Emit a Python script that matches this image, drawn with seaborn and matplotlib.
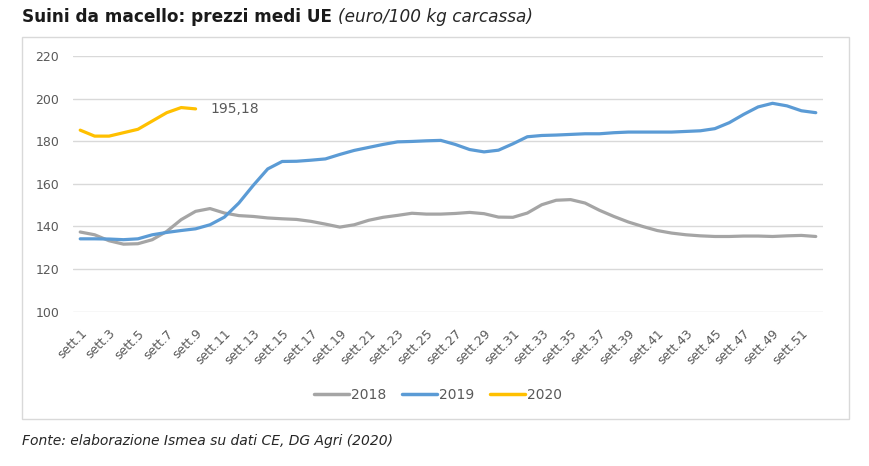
"""Suini da macello: prezzi medi UE - recreation"""
import matplotlib
matplotlib.use("Agg")
import matplotlib.pyplot as plt
from matplotlib.patches import Rectangle
from matplotlib.lines import Line2D
import seaborn as sns
import pandas as pd

# Data (euro/100 kg carcassa)
weeks = list(range(1, 53))
prices_2018 = [137.4, 136.1, 133.3, 131.7, 131.9, 133.8, 137.7, 143.2, 147.1, 148.4,
               146.3, 145.1, 144.7, 144.0, 143.6, 143.3, 142.4, 141.1, 139.7, 140.8,
               142.9, 144.3, 145.2, 146.2, 145.8, 145.8, 146.1, 146.6, 146.0, 144.4,
               144.3, 146.3, 150.2, 152.3, 152.6, 151.0, 147.6, 144.7, 142.1, 140.0,
               138.1, 136.9, 136.1, 135.6, 135.3, 135.3, 135.5, 135.5, 135.3, 135.6,
               135.8, 135.3]
prices_2019 = [134.2, 134.2, 134.1, 133.8, 134.2, 136.1, 137.2, 138.1, 138.9, 140.8,
               144.4, 151.0, 159.3, 167.0, 170.5, 170.6, 171.1, 171.7, 173.8, 175.7,
               177.1, 178.5, 179.7, 179.9, 180.2, 180.4, 178.5, 176.1, 175.0, 175.8,
               178.8, 182.1, 182.7, 182.9, 183.2, 183.5, 183.5, 184.0, 184.3, 184.3,
               184.3, 184.3, 184.6, 184.9, 185.9, 188.7, 192.6, 196.1, 197.8, 196.6,
               194.3, 193.4]
prices_2020 = [185.2, 182.4, 182.4, 184.0, 185.6, 189.5, 193.4, 195.8, 195.18]
years = ["2018", "2019", "2020"]
colors = ["#A5A5A5", "#5B9BD5", "#FFC000"]
tick_weeks = list(range(1, 53, 2))
tick_labels = [f"sett.{w}" for w in tick_weeks]
last_label = "195,18"

rows = []
for year, series in zip(years, [prices_2018, prices_2019, prices_2020]):
    for w, p in zip(weeks, series):
        rows.append({"week": w, "price": p, "year": year})
df = pd.DataFrame(rows)

sns.set_theme(style="white")
plt.rcParams["font.family"] = ["DejaVu Sans"]
text_color = "#595959"

fig = plt.figure(figsize=(8.7, 4.66), dpi=100)
ax = fig.add_axes([73 / 870, 1 - 311.7 / 466, (823 - 73) / 870, (311.7 - 56) / 466])

sns.lineplot(data=df, x="week", y="price", hue="year", palette=colors,
             linewidth=2.3, ax=ax, legend=False)

ax.set_xlim(0.5, 52.5)
ax.set_ylim(100, 220)
ax.set_yticks(range(100, 221, 20))
ax.set_xticks(tick_weeks)
ax.set_xticklabels(tick_labels, rotation=45, ha="right", rotation_mode="anchor",
                   fontsize=9, color=text_color)
ax.tick_params(axis="y", labelsize=9, labelcolor=text_color, length=0, pad=10)
ax.tick_params(axis="x", length=0, pad=11)
ax.yaxis.grid(True, color="#D9D9D9", linewidth=1)
ax.set_axisbelow(True)
for s in ax.spines.values():
    s.set_visible(False)
ax.set_xlabel("")
ax.set_ylabel("")

# label on the last 2020 value
ax.annotate(last_label, xy=(len(prices_2020), prices_2020[-1]), xytext=(11, 0),
            textcoords="offset points", va="center", ha="left",
            fontsize=10, color=text_color)

# legend below the plot
handles = [Line2D([0], [0], color=c, linewidth=2.5) for c in colors]
fig.legend(handles, years, loc="center", bbox_to_anchor=(438 / 870, 1 - 395 / 466),
           ncol=3, frameon=False, fontsize=10, labelcolor=text_color,
           handlelength=2.5, handletextpad=0.15, columnspacing=1.15)

# chart frame
fig.patches.append(Rectangle((22 / 870, 1 - 419 / 466), 827 / 870, 382 / 466,
                             transform=fig.transFigure, fill=False,
                             edgecolor="#D9D9D9", linewidth=1))

# title and source
t1 = fig.text(22 / 870, 1 - 17 / 466, "Suini da macello: prezzi medi UE ",
              fontsize=12.2, fontweight="bold", color="#1a1a1a", va="center", ha="left")
fig.canvas.draw()
bb = t1.get_window_extent()
fig.text(bb.x1 / 870, 1 - 17 / 466, "(euro/100 kg carcassa)", fontsize=12.2,
         style="italic", color="#262626", va="center", ha="left")
fig.text(22 / 870, 1 - 441 / 466, "Fonte: elaborazione Ismea su dati CE, DG Agri (2020)",
         fontsize=10, style="italic", color="#262626", va="center", ha="left")

fig.savefig("out.png", dpi=100)
